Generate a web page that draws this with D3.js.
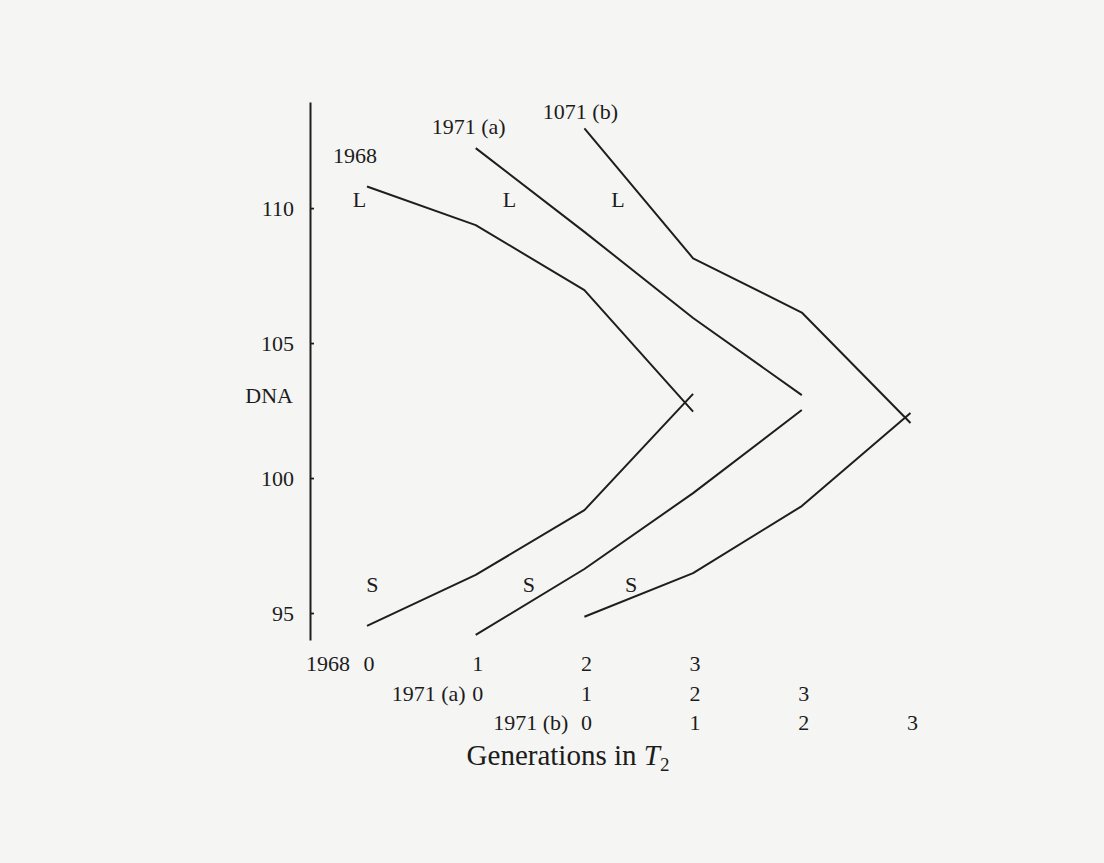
<!DOCTYPE html>
<html>
<head>
<meta charset="utf-8">
<script src="https://cdn.jsdelivr.net/npm/d3@7"></script>
<style>
  body { margin: 0; background: #f5f5f3; }
  text { font-family: "Liberation Serif", "Times New Roman", serif; fill: #1c1c1c; }
</style>
</head>
<body>
<svg id="chart" width="1104" height="863"></svg>
<script>
// names under the x axis, and the names printed at the top of each curve
var rowNames = ["1968", "1971 (a)", "1971 (b)"];
var curveNames = ["1968", "1971 (a)", "1071 (b)"];
// each experiment starts one generation step further right
var seriesOffsets = [0, 1, 2];
var generations = [0, 1, 2, 3];
var yTicks = [95, 100, 105, 110];

// DNA values of the L branch (upper) and S branch (lower), generations 0..3
var lValues1968 = [110.8, 109.37, 106.96, 102.46];
var sValues1968 = [94.52, 96.41, 98.81, 103.12];
var lValues1971a = [112.22, 109.12, 105.93, 103.07];
var sValues1971a = [94.19, 96.63, 99.44, 102.52];
var lValues1971b = [112.95, 108.14, 106.13, 102.04];
var sValues1971b = [94.86, 96.48, 98.96, 102.41];

var lSeries = [lValues1968, lValues1971a, lValues1971b];
var sSeries = [sValues1968, sValues1971a, sValues1971b];

var svg = d3.select("#chart");

var x = d3.scaleLinear().domain([0, 5]).range([367, 910.5]);
var y = d3.scaleLinear().domain([94, 113.93]).range([640, 102]);
var axisX = 310;
var ink = "#1e1e1e";
var fontSize = 22;

// y axis, ticks pointing inwards
var yAxis = svg.append("g")
    .attr("transform", "translate(" + axisX + ",0)")
    .call(d3.axisLeft(y).tickValues(yTicks).tickSizeInner(-4).tickSizeOuter(0).tickPadding(16));
yAxis.select(".domain").attr("stroke", ink).attr("stroke-width", 2);
yAxis.selectAll(".tick line").attr("stroke", ink).attr("stroke-width", 1.8);
yAxis.selectAll(".tick text")
    .attr("font-family", "Liberation Serif")
    .attr("font-size", fontSize)
    .attr("fill", "#1c1c1c");

svg.append("text")
    .attr("x", axisX - 17)
    .attr("y", y(103.05))
    .attr("dy", "0.32em")
    .attr("text-anchor", "end")
    .attr("font-size", fontSize)
    .text("DNA");

// curves
var line = d3.line()
    .x(function(d) { return x(d.p); })
    .y(function(d) { return y(d.v); });

function branch(values, offset) {
  return generations.map(function(g, i) { return { p: g + offset, v: values[i] }; });
}

var curves = svg.append("g").attr("fill", "none").attr("stroke", ink)
    .attr("stroke-width", 2).attr("stroke-linejoin", "round");
for (var i = 0; i < seriesOffsets.length; i++) {
  curves.append("path").attr("d", line(branch(lSeries[i], seriesOffsets[i])));
  curves.append("path").attr("d", line(branch(sSeries[i], seriesOffsets[i])));
}

// curve names above the start of each L branch
var nameNudge = [[-12, -23], [-7, -14], [-4, -9]];
svg.append("g").selectAll("text")
  .data(curveNames)
  .enter().append("text")
    .attr("x", function(d, i) { return x(seriesOffsets[i]) + nameNudge[i][0]; })
    .attr("y", function(d, i) { return y(lSeries[i][0]) + nameNudge[i][1]; })
    .attr("text-anchor", "middle")
    .attr("font-size", fontSize)
    .text(function(d) { return d; });

// L and S branch letters
var lLetterShift = [-0.07, 0.31, 0.31];
var sLetterShift = [0.05, 0.49, 0.43];
svg.append("g").selectAll("text")
  .data(seriesOffsets)
  .enter().append("text")
    .attr("x", function(d, i) { return x(d + lLetterShift[i]); })
    .attr("y", y(110.04))
    .attr("text-anchor", "middle")
    .attr("font-size", fontSize)
    .text("L");
svg.append("g").selectAll("text")
  .data(seriesOffsets)
  .enter().append("text")
    .attr("x", function(d, i) { return x(d + sLetterShift[i]); })
    .attr("y", y(95.78))
    .attr("text-anchor", "middle")
    .attr("font-size", fontSize)
    .text("S");

// generation rows under the plot, one per experiment
var rowBase = 671, rowGap = 29.5;
var rowNameGap = [17, 10, 16];
seriesOffsets.forEach(function(offset, r) {
  var row = svg.append("g").attr("font-size", fontSize);
  row.append("text")
      .attr("x", x(offset) - rowNameGap[r])
      .attr("y", rowBase + r * rowGap)
      .attr("text-anchor", "end")
      .text(rowNames[r]);
  row.selectAll("text.gen")
    .data(generations)
    .enter().append("text")
      .attr("class", "gen")
      .attr("x", function(g) { return x(g + offset) + 2; })
      .attr("y", rowBase + r * rowGap)
      .attr("text-anchor", "middle")
      .text(function(g) { return g; });
});

// axis title
var title = svg.append("text")
    .attr("x", 568)
    .attr("y", 765)
    .attr("text-anchor", "middle")
    .attr("font-size", 29);
title.append("tspan").text("Generations in ");
title.append("tspan").attr("font-style", "italic").text("T");
title.append("tspan").attr("font-size", 19).attr("dy", 6).text("2");
</script>
</body>
</html>
